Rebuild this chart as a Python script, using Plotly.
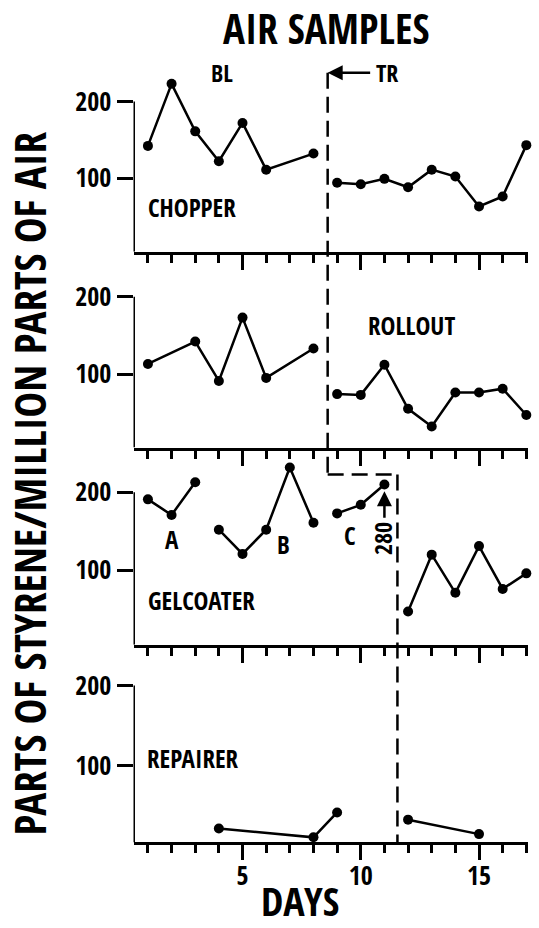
import plotly.graph_objects as go

W, H = 539, 928
FONT = "Open Sans Condensed, Roboto Condensed, sans-serif"

# ---- data ----
chopper_bl_days = [1, 2, 3, 4, 5, 6, 8]
chopper_bl_ppm = [142, 223, 161, 122, 172, 111, 132]
chopper_tr_days = [9, 10, 11, 12, 13, 14, 15, 16, 17]
chopper_tr_ppm = [94, 92, 99, 88, 111, 102, 63, 76, 143]

rollout_bl_days = [1, 3, 4, 5, 6, 8]
rollout_bl_ppm = [113, 142, 91, 173, 95, 133]
rollout_tr_days = [9, 10, 11, 12, 13, 14, 15, 16, 17]
rollout_tr_ppm = [74, 73, 112, 55, 32, 76, 76, 81, 47]

gel_a_days = [1, 2, 3]
gel_a_ppm = [191, 171, 213]
gel_b_days = [4, 5, 6, 7, 8]
gel_b_ppm = [152, 121, 152, 232, 161]
gel_c_days = [9, 10, 11]
gel_c_ppm = [173, 184, 210]
gel_tr_days = [12, 13, 14, 15, 16, 17]
gel_tr_ppm = [47, 120, 71, 131, 76, 96]

rep_bl_days = [4, 8, 9]
rep_bl_ppm = [22, 11, 42]
rep_tr_days = [12, 15]
rep_tr_ppm = [33, 15]

y_ticks = [100, 200]
x_major = [5, 10, 15]
x_labels = ["5", "10", "15"]


def px(x):
    return x / W


def py(y):
    return 1 - y / H


X_RANGE = [0.39, 17.05]
X_DOM = [px(133.5), px(527.5)]

# panels: (top px, bottom px, y range)
panels = [
    (60, 248, [4, 248]),
    (270, 445, [4.8, 230]),
    (455, 643.3, [4.2, 244.7]),
    (670, 842, [4.6, 217.7]),
]

series = [
    [(chopper_bl_days, chopper_bl_ppm), (chopper_tr_days, chopper_tr_ppm)],
    [(rollout_bl_days, rollout_bl_ppm), (rollout_tr_days, rollout_tr_ppm)],
    [(gel_a_days, gel_a_ppm), (gel_b_days, gel_b_ppm), (gel_c_days, gel_c_ppm),
     (gel_tr_days, gel_tr_ppm)],
    [(rep_bl_days, rep_bl_ppm), (rep_tr_days, rep_tr_ppm)],
]

fig = go.Figure()
layout = {}
shapes = []
for i, (top, bot, yr) in enumerate(panels):
    n = "" if i == 0 else str(i + 1)
    xa, ya = "x" + n, "y" + n
    for d, v in series[i]:
        fig.add_trace(go.Scatter(
            x=d, y=v, mode="lines+markers", xaxis=xa, yaxis=ya,
            line=dict(color="black", width=2.5),
            marker=dict(color="black", size=10),
            cliponaxis=False,
            showlegend=False, hoverinfo="skip"))
    last = i == 3
    layout["xaxis" + n] = dict(
        domain=X_DOM, range=X_RANGE, anchor=ya,
        showline=True, linewidth=3, linecolor="black",
        showgrid=False, zeroline=False,
        ticks="outside", tickvals=x_major, ticktext=x_labels,
        ticklen=15, tickwidth=3, tickcolor="black",
        showticklabels=last, ticklabelstandoff=-7,
        tickfont=dict(family=FONT, size=26, color="black", weight="bold"),
        minor=dict(ticks="outside", dtick=1, tick0=0, ticklen=8,
                   tickwidth=3, tickcolor="black", showgrid=False),
    )
    layout["yaxis" + n] = dict(
        domain=[py(bot), py(top)], range=yr, anchor=xa,
        showline=False, showgrid=False, zeroline=False,
        ticks="outside", tickvals=y_ticks, ticklen=16, tickwidth=3,
        tickcolor="black",
        tickfont=dict(family=FONT, size=26, color="black", weight="bold"),
    )
    # partial y axis line from baseline to 200
    shapes.append(dict(type="line", xref=xa, yref=ya,
                       x0=X_RANGE[0], x1=X_RANGE[0], y0=yr[0], y1=200,
                       line=dict(color="black", width=3)))

# dashed phase-change line
XL1, XL2 = 8.6, 11.55
dash = dict(color="black", width=2.5, dash="16px,8px")
shapes += [
    dict(type="line", xref="x", yref="paper", x0=XL1, x1=XL1,
         y0=py(68), y1=py(472), line=dash),
    dict(type="line", xref="x", yref="paper", x0=XL1, x1=XL2,
         y0=py(472), y1=py(472), line=dash),
    dict(type="line", xref="x", yref="paper", x0=XL2, x1=XL2,
         y0=py(472), y1=py(842), line=dash),
]

def txt(x, y, s, size=24, xanchor="center", angle=0):
    return dict(x=px(x), y=py(y), xref="paper", yref="paper", text=s,
                showarrow=False, xanchor=xanchor, yanchor="middle",
                textangle=angle,
                font=dict(family=FONT, size=size, color="black", weight="bold"))

annotations = [
    txt(326, 23, "AIR SAMPLES", 41),
    txt(222, 68, "BL", 24),
    txt(387, 68, "TR", 24),
    txt(146, 203, "CHOPPER", 25, "left"),
    txt(366, 322, "ROLLOUT", 25, "left"),
    txt(172, 537, "A", 25),
    txt(283, 542, "B", 25),
    txt(350, 533, "C", 25),
    txt(382, 537, "280", 24, angle=-90),
    txt(146, 598, "GELCOATER", 25, "left"),
    txt(145, 757, "REPAIRER", 25, "left"),
    txt(300, 900, "DAYS", 40),
    txt(29, 481, "PARTS OF STYRENE/MILLION PARTS OF AIR", 43, angle=-90),
    # arrow from TR to dashed line
    dict(x=XL1, y=py(68), xref="x", yref="paper", ax=44, ay=0,
         axref="pixel", ayref="pixel", text="", showarrow=True,
         arrowhead=2, arrowsize=1.2, arrowwidth=2.5, arrowcolor="black"),
    # arrow up to day 11 value (280)
    dict(x=11, y=py(489), xref="x3", yref="paper", ax=0, ay=28,
         axref="pixel", ayref="pixel", text="", showarrow=True,
         arrowhead=2, arrowsize=1.2, arrowwidth=2.5, arrowcolor="black"),
]

fig.update_layout(
    width=W, height=H, margin=dict(l=0, r=0, t=0, b=0),
    paper_bgcolor="white", plot_bgcolor="white",
    shapes=shapes, annotations=annotations, **layout,
)
fig.write_html("out.html", config={"displayModeBar": False},
               post_script="document.body.style.margin='0px';")
